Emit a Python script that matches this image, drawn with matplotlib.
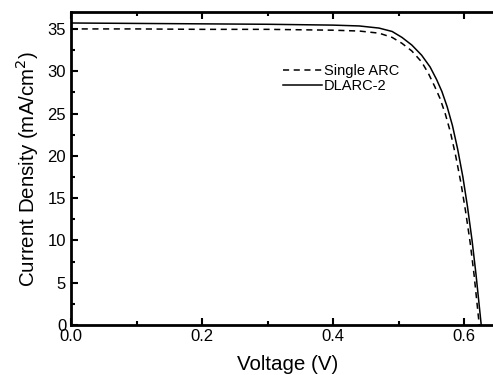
import matplotlib
matplotlib.use("Agg")
import matplotlib.pyplot as plt
from matplotlib.ticker import MultipleLocator

plt.rcParams['font.family'] = ['Liberation Sans', 'DejaVu Sans']

# Data
v_dlarc = [0.0, 0.1, 0.2, 0.3, 0.4, 0.44, 0.47, 0.49, 0.505, 0.52, 0.535, 0.548, 0.558,
           0.566, 0.574, 0.582, 0.590, 0.598, 0.605, 0.612, 0.618, 0.622, 0.626]
j_dlarc = [35.7, 35.65, 35.6, 35.55, 35.45, 35.35, 35.1, 34.7, 34.0, 33.1, 31.9, 30.5, 29.0,
           27.6, 25.8, 23.6, 20.8, 17.5, 14.0, 10.0, 6.0, 3.0, 0.0]

v_single = [0.0, 0.1, 0.2, 0.3, 0.4, 0.44, 0.47, 0.49, 0.505, 0.52, 0.535, 0.545, 0.555,
            0.563, 0.571, 0.579, 0.587, 0.595, 0.602, 0.609, 0.615, 0.619, 0.623]
j_single = [35.0, 35.0, 34.95, 34.95, 34.85, 34.75, 34.5, 34.0, 33.3, 32.4, 31.1, 29.8, 28.2,
            26.8, 25.0, 22.8, 20.0, 16.8, 13.5, 9.8, 6.0, 3.0, 0.0]

x_ticks = [0.0, 0.2, 0.4, 0.6]
x_labels = ['0.0', '0.2', '0.4', '0.6']
y_ticks = [0, 5, 10, 15, 20, 25, 30, 35]

fig = plt.figure(figsize=(4.93, 3.75), dpi=100)
ax = fig.add_axes([0.144, 0.133, 0.88, 0.835])

ax.plot(v_single, j_single, color='black', lw=1.1, ls=(0, (4, 3)), label='Single ARC')
ax.plot(v_dlarc, j_dlarc, color='black', lw=1.1, ls='-', label='DLARC-2')

ax.set_xlim(0, 0.662)
ax.set_ylim(0, 37)
ax.set_xticks(x_ticks)
ax.set_xticklabels(x_labels)
ax.set_yticks(y_ticks)
ax.xaxis.set_minor_locator(MultipleLocator(0.1))
ax.yaxis.set_minor_locator(MultipleLocator(2.5))
ax.tick_params(which='both', direction='in', top=True, right=False, width=1.5, labelsize=12)
ax.tick_params(which='major', length=5)
ax.tick_params(which='minor', length=3)
ax.tick_params(axis='x', pad=3)
for s in ax.spines.values():
    s.set_linewidth(2)

ax.set_xlabel('Voltage (V)', fontsize=14.8, labelpad=8)
ax.set_ylabel('Current Density (mA/cm$^2$)', fontsize=14.8, labelpad=5)

leg = ax.legend(loc='upper left', bbox_to_anchor=(0.475, 0.853), frameon=False,
                fontsize=10.5, handlelength=2.7, handletextpad=0.1, labelspacing=0.1,
                borderaxespad=0)

fig.savefig('out.png', dpi=100)
